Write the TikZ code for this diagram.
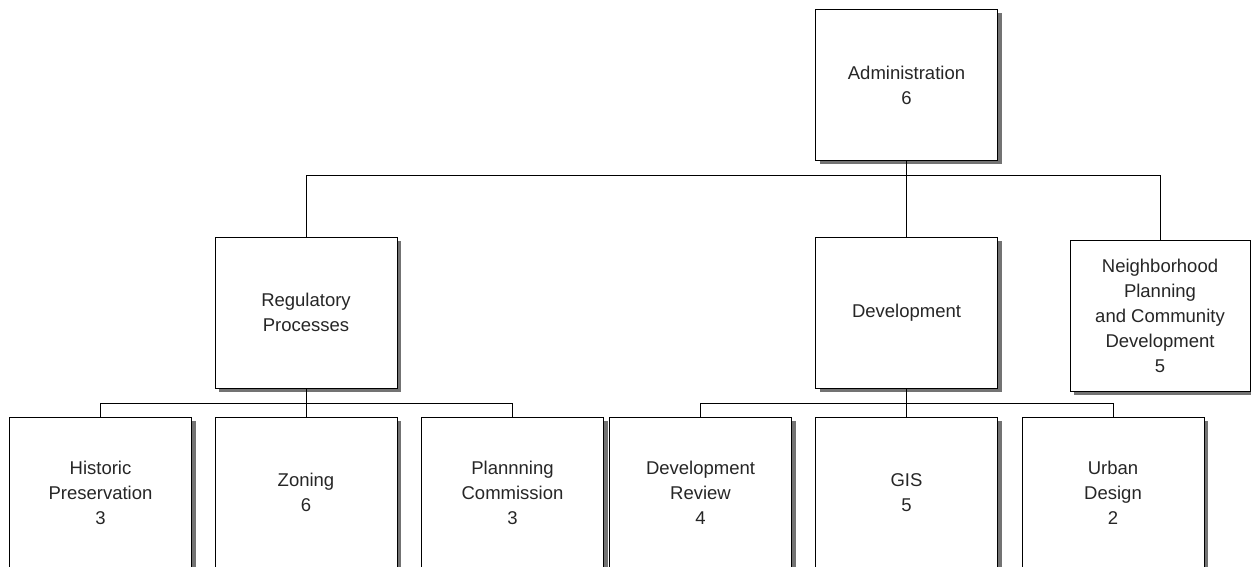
\documentclass[tikz,border=0pt]{standalone}
\usepackage{fontspec}
\setmainfont{Liberation Sans}
\usetikzlibrary{shadows}
\begin{document}
\begin{tikzpicture}[x=1pt,y=-1pt,
  orgbox/.style={draw=black, line width=1pt, fill=white, minimum width=182pt, minimum height=151pt,
    inner sep=0pt, align=center, text=black!85,
    font=\fontsize{18.5}{25}\selectfont,
    drop shadow={shadow xshift=4pt, shadow yshift=-4pt, fill=black!55, opacity=1}},
  link/.style={draw=black, line width=1pt}]
\useasboundingbox (0,0) rectangle (1251,567);
\clip (0,0) rectangle (1251,567);
\fill[white] (0,0) rectangle (1251,567);
% top
\node[orgbox] (admin) at (906.5,85) {Administration\\6};
% level 1
\node[orgbox] (reg) at (306,312.5) {Regulatory\\Processes};
\node[orgbox] (dev) at (906.5,312.5) {Development};
\node[orgbox, minimum width=180pt] (nb) at (1160,315.5) {Neighborhood\\Planning\\and Community\\Development\\5};
% level 2
\node[orgbox] (hist) at (100.5,492.5) {Historic\\Preservation\\3};
\node[orgbox] (zon) at (306,492.5) {Zoning\\6};
\node[orgbox] (plan) at (512.5,492.5) {Plannning\\Commission\\3};
\node[orgbox] (drev) at (700.5,492.5) {Development\\Review\\4};
\node[orgbox] (gis) at (906.5,492.5) {GIS\\5};
\node[orgbox] (urb) at (1113,492.5) {Urban\\Design\\2};
% junctions
\coordinate (j1) at (906.5,176);
\coordinate (j2) at (306,403);
\coordinate (j3) at (906.5,403);
\draw[link] (admin.south) -- (j1);
\draw[link] (reg.north) |- (j1);
\draw[link] (dev.north) -- (j1);
\draw[link] (nb.north) |- (j1);
\draw[link] (reg.south) -- (j2);
\draw[link] (hist.north) |- (j2);
\draw[link] (zon.north) -- (j2);
\draw[link] (plan.north) |- (j2);
\draw[link] (dev.south) -- (j3);
\draw[link] (drev.north) |- (j3);
\draw[link] (gis.north) -- (j3);
\draw[link] (urb.north) |- (j3);
\end{tikzpicture}
\end{document}
